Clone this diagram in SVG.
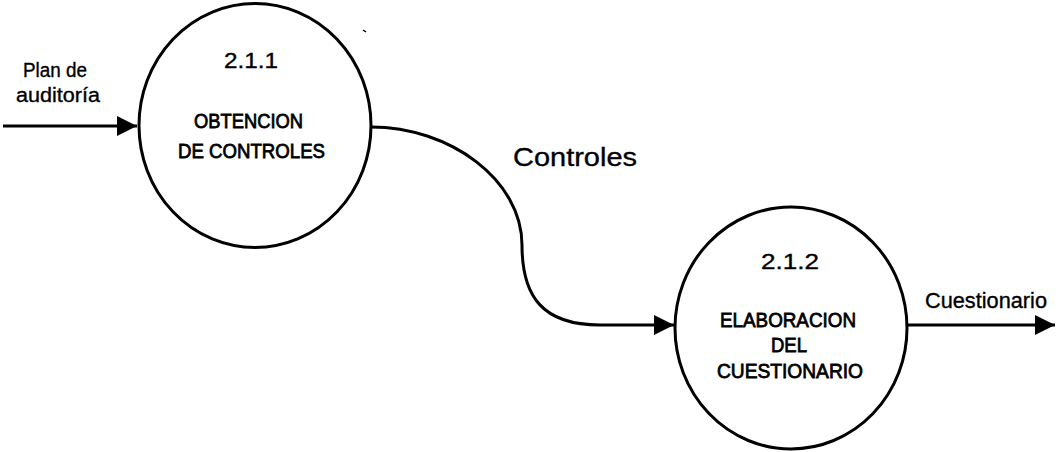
<svg xmlns="http://www.w3.org/2000/svg" width="1056" height="452" viewBox="0 0 1056 452">
  <style>
    .bubble { fill: #ffffff; stroke: #000000; stroke-width: 3; }
    .flow { fill: none; stroke: #000000; stroke-width: 3; }
    .txt { font-family: "Liberation Sans", Arial, sans-serif; fill: #000000; stroke: #000000; stroke-width: 0.35; }
    .num { font-size: 22px; text-anchor: middle; }
    .cap { font-size: 21px; text-anchor: middle; stroke-width: 0.8; }
    .lbl { font-size: 20px; }
    .big { font-size: 26px; }
  </style>
  <defs>
    <marker id="arrow" markerUnits="userSpaceOnUse" markerWidth="22" markerHeight="22" refX="20" refY="10" orient="auto">
      <path d="M0,0 L20,10 L0,20 Z" fill="#000000"/>
    </marker>
  </defs>

  <rect x="0" y="0" width="1056" height="452" fill="#ffffff"/>

  <!-- data flows -->
  <g id="connectors">
    <path class="flow" d="M3,126 L137,126" marker-end="url(#arrow)"/>
    <path class="flow" d="M371,127 C450,127 522,180 522,245 C522,296 542,325 600,325 L674,325" marker-end="url(#arrow)"/>
    <path class="flow" d="M907,325 L1055,325" marker-end="url(#arrow)"/>
    <path d="M363,30 L366,32" stroke="#000000" stroke-width="1.5"/>
  </g>

  <!-- flow labels -->
  <g id="label-plan">
    <text class="txt lbl" x="23" y="77" textLength="64" lengthAdjust="spacingAndGlyphs">Plan de</text>
    <text class="txt lbl" x="16" y="102" textLength="84" lengthAdjust="spacingAndGlyphs">auditoría</text>
  </g>
  <g id="label-controles">
    <text class="txt big" x="513" y="166" textLength="124" lengthAdjust="spacingAndGlyphs">Controles</text>
  </g>
  <g id="label-cuestionario">
    <text class="txt big" x="925" y="308" textLength="122" lengthAdjust="spacingAndGlyphs" style="font-size:22px">Cuestionario</text>
  </g>

  <!-- process 2.1.1 -->
  <g id="process-211">
    <ellipse class="bubble" cx="255" cy="125.5" rx="116" ry="122"/>
    <text class="txt num" x="251" y="68" textLength="54" lengthAdjust="spacingAndGlyphs">2.1.1</text>
    <text class="txt cap" x="248.5" y="128" textLength="109" lengthAdjust="spacingAndGlyphs">OBTENCION</text>
    <text class="txt cap" x="251.5" y="158" textLength="147" lengthAdjust="spacingAndGlyphs">DE CONTROLES</text>
  </g>

  <!-- process 2.1.2 -->
  <g id="process-212">
    <ellipse class="bubble" cx="791" cy="328" rx="116" ry="121"/>
    <text class="txt num" x="790" y="269" textLength="58" lengthAdjust="spacingAndGlyphs">2.1.2</text>
    <text class="txt cap" x="788" y="327" textLength="136" lengthAdjust="spacingAndGlyphs">ELABORACION</text>
    <text class="txt cap" x="789" y="352" textLength="36" lengthAdjust="spacingAndGlyphs">DEL</text>
    <text class="txt cap" x="790" y="378" textLength="146" lengthAdjust="spacingAndGlyphs">CUESTIONARIO</text>
  </g>
</svg>
